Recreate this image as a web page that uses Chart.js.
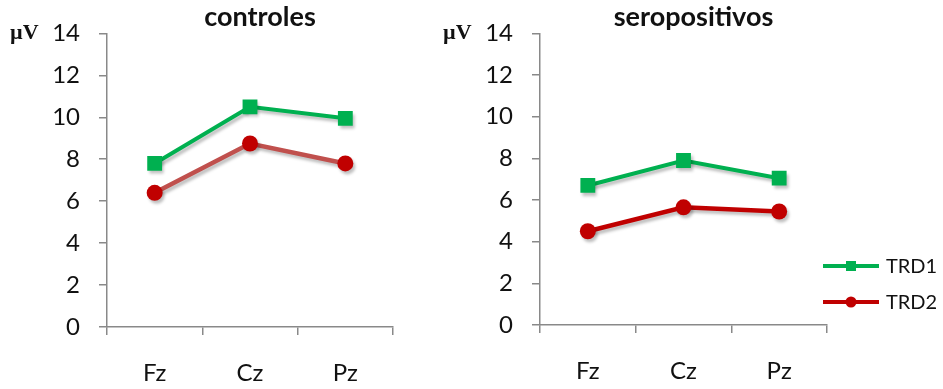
<!DOCTYPE html>
<html>
<head>
<meta charset="utf-8">
<script src="https://cdn.jsdelivr.net/npm/chart.js@4.4.1/dist/chart.umd.min.js"></script>
<style>
  html, body { margin: 0; padding: 0; background: #fff; }
  #wrap { position: relative; width: 943px; height: 389px; overflow: hidden; }
  #wrap canvas { position: absolute; top: 0; }
  #leftChart { left: 0; }
  #rightChart { left: 430px; }
</style>
</head>
<body>
<div id="wrap">
  <canvas id="leftChart" width="430" height="389"></canvas>
  <canvas id="rightChart" width="513" height="389"></canvas>
</div>
<script>
// dados
const electrodes = ['Fz', 'Cz', 'Pz'];
const controlesTRD1 = [7.8, 10.5, 9.95];
const controlesTRD2 = [6.4, 8.75, 7.8];
const seroTRD1 = [6.7, 7.9, 7.05];
const seroTRD2 = [4.5, 5.65, 5.45];
const seriesNames = ['TRD1', 'TRD2'];
const yMin = 0, yMax = 14, yStep = 2;

const green = '#00B050';
const darkRed = '#C00000';
const mutedRed = '#C0504D';
const axisGray = '#898989';

Chart.defaults.animation = false;
Chart.defaults.font.family = 'Lato, "Open Sans", sans-serif';
Chart.defaults.color = '#111';

// título + "µV" desenhados por cima, sem ocupar espaço do layout
function headerPlugin(title) {
    return {
        id: 'header',
        afterDraw(chart) {
            const ctx = chart.ctx;
            ctx.save();
            ctx.fillStyle = '#111';
            ctx.textBaseline = 'middle';
            ctx.textAlign = 'center';
            ctx.font = 'bold 27px Lato, sans-serif';
            ctx.fillText(title, (chart.chartArea.left + chart.chartArea.right) / 2 + 10, 17);
            ctx.font = 'bold 22px "Liberation Serif", "DejaVu Serif", serif';
            ctx.textAlign = 'left';
            ctx.fillText('µV', chart.chartArea.left - 97, chart.chartArea.top);
            ctx.restore();
        }
    };
}

// sombra leve atrás das linhas e marcadores
const shadowPlugin = {
    id: 'shadow',
    beforeDatasetsDraw(chart) {
        chart.ctx.save();
        chart.ctx.shadowColor = 'rgba(0,0,0,0.25)';
        chart.ctx.shadowBlur = 3;
        chart.ctx.shadowOffsetX = 2;
        chart.ctx.shadowOffsetY = 3;
    },
    afterDatasetsDraw(chart) {
        chart.ctx.restore();
    }
};

// legenda no estilo Excel (linha com marcador), canto inferior direito
const legendPlugin = {
    id: 'excelLegend',
    afterDraw(chart) {
        const ctx = chart.ctx;
        const x0 = chart.chartArea.right - 4;
        chart.data.datasets.forEach((ds, i) => {
            const y = 266 + i * 36;
            ctx.save();
            ctx.strokeStyle = ds.borderColor;
            ctx.lineWidth = 4;
            ctx.beginPath();
            ctx.moveTo(x0, y);
            ctx.lineTo(x0 + 56, y);
            ctx.stroke();
            ctx.fillStyle = ds.pointBackgroundColor;
            if (ds.pointStyle === 'rect') {
                ctx.fillRect(x0 + 23, y - 5, 10, 10);
            } else {
                ctx.beginPath();
                ctx.arc(x0 + 28, y, 5.5, 0, Math.PI * 2);
                ctx.fill();
            }
            ctx.fillStyle = '#111';
            ctx.font = '20px Lato, sans-serif';
            ctx.textBaseline = 'middle';
            ctx.textAlign = 'left';
            ctx.fillText(ds.label, x0 + 63, y + 1);
            ctx.restore();
        });
    }
};

function makeChart(id, title, trd1, trd2, trd2Line, pad, withLegend) {
    const plugins = [headerPlugin(title), shadowPlugin];
    if (withLegend) plugins.push(legendPlugin);
    return new Chart(id, {
        type: 'line',
        data: {
            labels: electrodes,
            datasets: [
                {
                    label: seriesNames[0],
                    data: trd1,
                    borderColor: green,
                    backgroundColor: green,
                    pointBackgroundColor: green,
                    pointBorderColor: green,
                    pointBorderWidth: 0,
                    pointStyle: 'rect',
                    pointRadius: 10.5,
                    borderWidth: 4,
                    tension: 0
                },
                {
                    label: seriesNames[1],
                    data: trd2,
                    borderColor: trd2Line,
                    backgroundColor: darkRed,
                    pointBackgroundColor: darkRed,
                    pointBorderColor: darkRed,
                    pointBorderWidth: 0,
                    pointStyle: 'circle',
                    pointRadius: 8,
                    borderWidth: 4.5,
                    tension: 0
                }
            ]
        },
        options: {
            responsive: false,
            layout: { padding: { left: 0, top: pad.top, right: pad.right, bottom: 0 } },
            plugins: {
                legend: { display: false },
                title: { display: false },
                tooltip: { enabled: false }
            },
            scales: {
                x: {
                    offset: true,
                    grid: { offset: true, drawOnChartArea: false, tickLength: 8, color: axisGray, lineWidth: 1.5 },
                    border: { display: true, color: axisGray, width: 1.5 },
                    ticks: { padding: 24, font: { size: 24 }, color: '#111' },
                    afterFit(scale) { scale.height = 389 - pad.bottom; }
                },
                y: {
                    min: yMin,
                    max: yMax,
                    ticks: { stepSize: yStep, padding: 19, font: { size: 24 }, color: '#111' },
                    grid: { drawOnChartArea: false, tickLength: 8, color: axisGray, lineWidth: 1.5 },
                    border: { display: true, color: axisGray, width: 1.5 },
                    afterFit(scale) { scale.width = pad.left; }
                }
            }
        },
        plugins: plugins
    });
}

makeChart('leftChart', 'controles', controlesTRD1, controlesTRD2, mutedRed,
    { left: 107, top: 30.5, right: 37, bottom: 327 }, false);
makeChart('rightChart', 'seropositivos', seroTRD1, seroTRD2, darkRed,
    { left: 110, top: 28, right: 116, bottom: 325 }, true);
</script>
</body>
</html>
